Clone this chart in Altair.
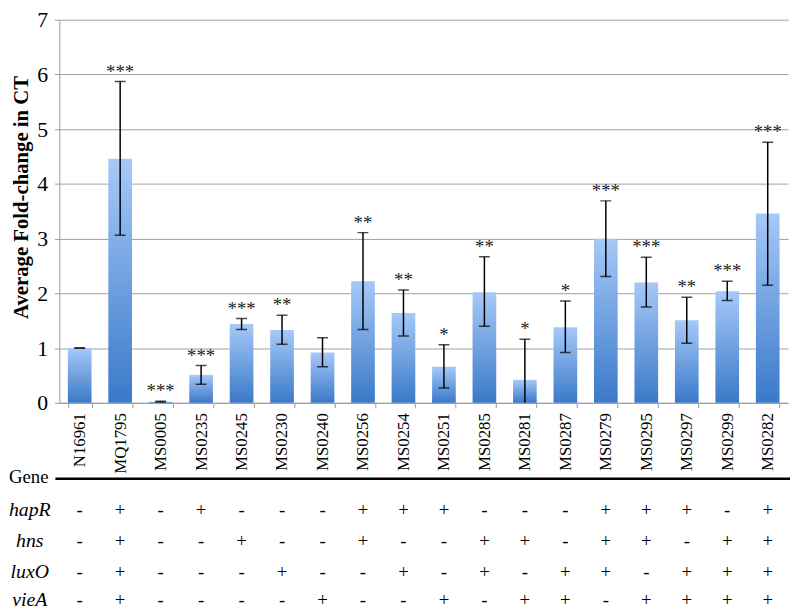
import altair as alt
import pandas as pd

strains = ["N16961", "MQ1795", "MS0005", "MS0235", "MS0245", "MS0230", "MS0240",
           "MS0256", "MS0254", "MS0251", "MS0285", "MS0281", "MS0287", "MS0279",
           "MS0295", "MS0297", "MS0299", "MS0282"]
means = [1.00, 4.46, 0.02, 0.51, 1.44, 1.33, 0.92, 2.22, 1.64, 0.66, 2.02, 0.42,
         1.38, 3.00, 2.20, 1.51, 2.04, 3.46]
err_hi = [1.00, 5.87, 0.03, 0.68, 1.54, 1.60, 1.19, 3.11, 2.06, 1.06, 2.67, 1.16,
          1.86, 3.69, 2.66, 1.93, 2.22, 4.76]
err_lo = [1.00, 3.06, 0.01, 0.34, 1.34, 1.07, 0.66, 1.34, 1.22, 0.27, 1.40, -0.32,
          0.92, 2.31, 1.75, 1.09, 1.87, 2.15]
stars = ["", "***", "***", "***", "***", "**", "", "**", "**", "*", "**", "*",
         "*", "***", "***", "**", "***", "***"]

genes = ["hapR", "hns", "luxO", "vieA"]
hapR = ["-", "+", "-", "+", "-", "-", "-", "+", "+", "+", "-", "-", "-", "+", "+", "+", "-", "+"]
hns = ["-", "+", "-", "-", "+", "-", "-", "+", "-", "-", "+", "+", "-", "+", "+", "-", "+", "+"]
luxO = ["-", "+", "-", "-", "-", "+", "-", "-", "+", "-", "+", "-", "+", "+", "-", "+", "+", "+"]
vieA = ["-", "+", "-", "-", "-", "-", "+", "-", "-", "+", "-", "+", "+", "-", "+", "+", "+", "+"]
gene_signs = {"hapR": hapR, "hns": hns, "luxO": luxO, "vieA": vieA}

W, H = 738, 388
SERIF = "Liberation Serif"

df = pd.DataFrame({"strain": strains, "mean": means, "hi": err_hi, "lo": err_lo, "stars": stars})

xenc = alt.X("strain:N", sort=strains,
             scale=alt.Scale(paddingInner=0.415, paddingOuter=0.21),
             axis=alt.Axis(title=None, labelAngle=-90, labelFont=SERIF, labelFontSize=17,
                           labelColor="black", labelPadding=5, tickBand="extent",
                           tickColor="#9a9a9a", tickSize=5, domainColor="#9a9a9a", grid=False))
yscale = alt.Scale(domain=[0, 7], nice=False)

base = alt.Chart(df)

bars = base.mark_bar(color=alt.Gradient(
    gradient="linear", x1=0, x2=0, y1=0, y2=1,
    stops=[alt.GradientStop(color="#a6c9f8", offset=0),
           alt.GradientStop(color="#3a79c9", offset=1)])).encode(
    x=xenc,
    y=alt.Y("mean:Q", scale=yscale,
            axis=alt.Axis(title=None, values=list(range(8)), format="d", labelFont=SERIF,
                          labelFontSize=22, labelColor="black", gridColor="#a0a0a0",
                          domainColor="#9a9a9a", tickColor="#9a9a9a", tickSize=5,
                          labelPadding=7))
)

rules = base.mark_rule(color="black", strokeWidth=1.5, clip=True).encode(
    x=alt.X("strain:N", sort=strains), y="lo:Q", y2="hi:Q")
cap_hi = base.mark_tick(color="black", thickness=1.5, size=11, clip=True).encode(
    x=alt.X("strain:N", sort=strains), y="hi:Q")
cap_lo = base.mark_tick(color="black", thickness=1.5, size=11, clip=True).encode(
    x=alt.X("strain:N", sort=strains), y="lo:Q")
star_txt = base.mark_text(font=SERIF, fontSize=19, baseline="alphabetic", dy=-4,
                          color="#222222").encode(
    x=alt.X("strain:N", sort=strains), y="hi:Q", text="stars:N")

one = pd.DataFrame({"k": [0]})
ytitle = alt.Chart(one).mark_text(text="Average Fold-change in CT", angle=270, font=SERIF,
                                  fontSize=21, fontWeight="bold", color="black").encode(
    x=alt.value(-38), y=alt.value(180))
gene_lbl = alt.Chart(one).mark_text(text="Gene", font=SERIF, fontSize=19, color="black",
                                    align="left", baseline="middle").encode(
    x=alt.value(-51), y=alt.value(463))
gene_line = alt.Chart(one).mark_rule(color="black", strokeWidth=2.5).encode(
    x=alt.value(-4), x2=alt.value(W + 2), y=alt.value(465))

layers = [bars, rules, cap_hi, cap_lo, star_txt, ytitle, gene_lbl, gene_line]
row_y = [497, 528, 559, 588]
for g, ry in zip(genes, row_y):
    gdf = pd.DataFrame({"strain": strains, "sign": gene_signs[g]})
    layers.append(alt.Chart(gdf).mark_text(font=SERIF, fontSize=19, color="black",
                                           baseline="middle").encode(
        x=alt.X("strain:N", sort=strains), y=alt.value(ry), text="sign:N"))
    layers.append(alt.Chart(one).mark_text(text=g, font=SERIF, fontSize=20, fontStyle="italic",
                                           color="black", baseline="middle").encode(
        x=alt.value(-30), y=alt.value(ry)))

chart = alt.layer(*layers).properties(
    width=W, height=H,
    padding={"left": 0, "top": -3, "right": 0, "bottom": 0}
).configure_view(stroke=None)

chart.save("out.html", embed_options={"renderer": "svg", "actions": False})
